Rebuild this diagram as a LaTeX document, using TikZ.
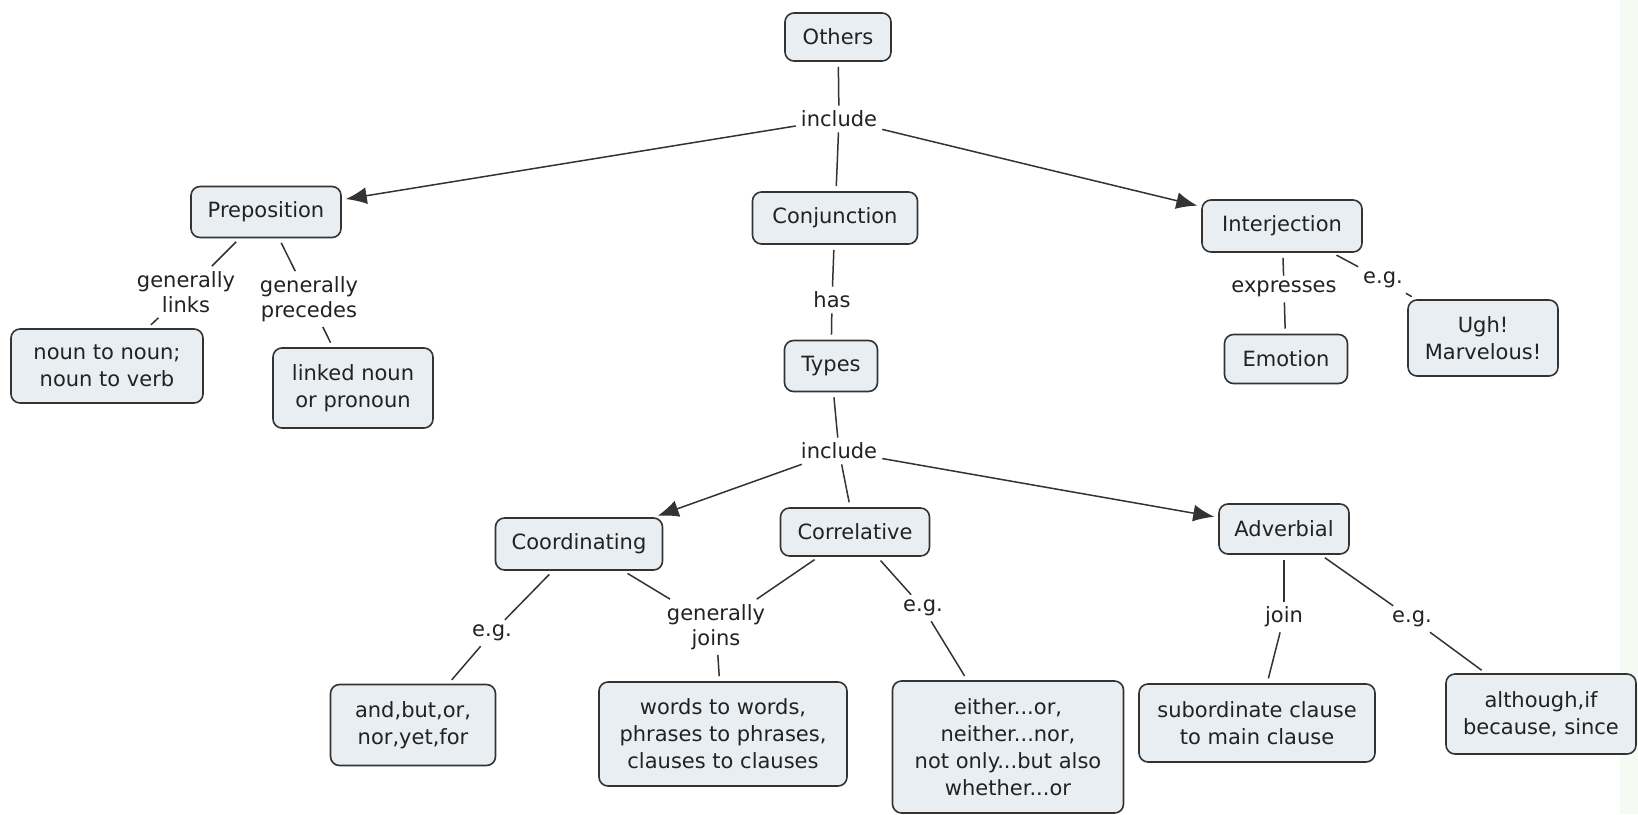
\documentclass[tikz,border=0pt]{standalone}
\usepackage{fontspec}
\setmainfont{DejaVu Sans}
\usetikzlibrary{arrows.meta}
\definecolor{boxfill}{HTML}{E8EEF2}
\definecolor{boxline}{HTML}{333333}
\definecolor{ink}{HTML}{222222}
\definecolor{edgetint}{HTML}{F5FAF3}
\begin{document}
\begin{tikzpicture}[x=1pt,y=-1pt,
 box/.style={draw=boxline, fill=boxfill, rounded corners=9pt, line width=1.6pt, align=center, inner sep=0pt, font=\fontsize{21}{27}\selectfont, text=ink},
 lbl/.style={align=center, inner sep=5pt, font=\fontsize{21}{25}\selectfont, text=ink},
 conn/.style={draw=boxline, line width=1.5pt},
 fb/.style={shorten <=5pt},
 tb/.style={shorten >=5pt},
 arr/.style={conn, -{Latex[length=21pt,width=17pt]}, shorten >=4pt}]
\useasboundingbox (0,0) rectangle (1638,814);
\fill[white] (0,0) rectangle (1638,814);
\fill[edgetint] (1620,0) rectangle (1638,814);
% boxes
\node[box, minimum width=106pt, minimum height=48pt] (others) at (838,37) {Others};
\node[box, minimum width=150pt, minimum height=51pt] (prep) at (266,212) {Preposition};
\node[box, minimum width=165pt, minimum height=52pt] (conj) at (835,218) {Conjunction};
\node[box, minimum width=160pt, minimum height=52pt] (interj) at (1282,226) {Interjection};
\node[box, minimum width=192pt, minimum height=74pt] (noun) at (107,366) {noun to noun;\\noun to verb};
\node[box, minimum width=160pt, minimum height=80pt] (linked) at (353,388) {linked noun\\or pronoun};
\node[box, minimum width=93pt, minimum height=51pt] (types) at (831,366) {Types};
\node[box, minimum width=123pt, minimum height=49pt] (emotion) at (1286,359) {Emotion};
\node[box, minimum width=150pt, minimum height=76pt] (ugh) at (1483,338) {Ugh!\\Marvelous!};
\node[box, minimum width=167pt, minimum height=52pt] (coord) at (579,544) {Coordinating};
\node[box, minimum width=149pt, minimum height=48pt] (corr) at (855,532) {Correlative};
\node[box, minimum width=130pt, minimum height=50pt] (adv) at (1284,529) {Adverbial};
\node[box, minimum width=165pt, minimum height=81pt] (andbut) at (413,725) {and,but,or,\\nor,yet,for};
\node[box, minimum width=248pt, minimum height=104pt] (words) at (723,734) {words to words,\\phrases to phrases,\\clauses to clauses};
\node[box, minimum width=231pt, minimum height=132pt] (either) at (1008,747) {either...or,\\neither...nor,\\not only...but also\\whether...or};
\node[box, minimum width=236pt, minimum height=78pt] (subord) at (1257,723) {subordinate clause\\to main clause};
\node[box, minimum width=190pt, minimum height=80pt] (although) at (1541,714) {although,if\\because, since};
% labels
\node[lbl] (inc1) at (839,119) {include};
\node[lbl] (links) at (186,292) {generally\\links};
\node[lbl] (precedes) at (309,299) {generally\\precedes};
\node[lbl] (has) at (832,300) {has};
\node[lbl] (expresses) at (1284,289) {expresses};
\node[lbl] (eg1) at (1383,280) {e.g.};
\node[lbl] (inc2) at (839,451) {include};
\node[lbl] (eg2) at (492,633) {e.g.};
\node[lbl] (joins) at (716,627) {generally\\joins};
\node[lbl] (eg3) at (923,608) {e.g.};
\node[lbl] (join) at (1284,617) {join};
\node[lbl] (eg4) at (1412,619) {e.g.};
% connectors
\draw[conn, fb] (others) -- (inc1);
\draw[conn, tb] (inc1) -- (conj);
\draw[arr] (inc1) -- (prep);
\draw[arr] (inc1) -- (interj);
\draw[conn, fb] (prep) -- (links);
\draw[conn, tb] (links) -- (noun);
\draw[conn, fb] (prep) -- (precedes);
\draw[conn, tb] (precedes) -- (linked);
\draw[conn, fb] (conj) -- (has);
\draw[conn, tb] (has) -- (types);
\draw[conn, fb] (interj) -- (expresses);
\draw[conn, tb] (expresses) -- (emotion);
\draw[conn, fb] (interj) -- (eg1);
\draw[conn, tb] (eg1) -- (ugh);
\draw[conn, fb] (types) -- (inc2);
\draw[conn, tb] (inc2) -- (corr);
\draw[arr] (inc2) -- (coord);
\draw[arr] (inc2) -- (adv);
\draw[conn, fb] (coord) -- (eg2);
\draw[conn, tb] (eg2) -- (andbut);
\draw[conn, fb] (coord) -- (joins);
\draw[conn, fb] (corr) -- (joins);
\draw[conn, tb] (joins) -- (words);
\draw[conn, fb] (corr) -- (eg3);
\draw[conn, tb] (eg3) -- (either);
\draw[conn, fb] (adv) -- (join);
\draw[conn, tb] (join) -- (subord);
\draw[conn, fb] (adv) -- (eg4);
\draw[conn, tb] (eg4) -- (although);
\end{tikzpicture}
\end{document}
